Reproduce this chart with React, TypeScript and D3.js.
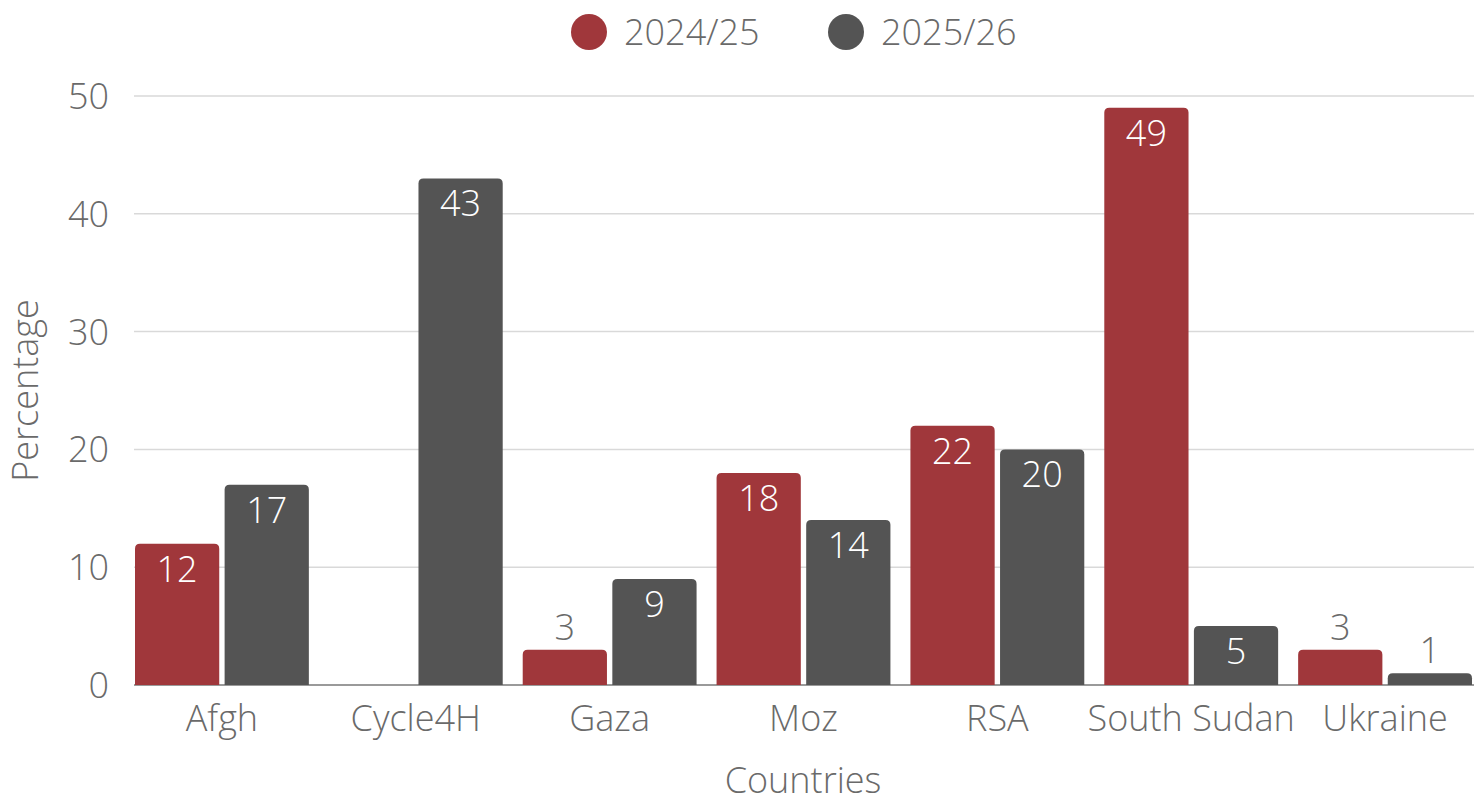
import * as d3 from "d3";

const countries = ["Afgh", "Cycle4H", "Gaza", "Moz", "RSA", "South Sudan", "Ukraine"];
const seriesNames = ["2024/25", "2025/26"];
const values2024: (number | null)[] = [12, null, 3, 18, 22, 49, 3];
const values2025: (number | null)[] = [17, 43, 9, 14, 20, 5, 1];
const yTicks = [0, 10, 20, 30, 40, 50];
const colors = ["#A0373B", "#545454"];

const W = 1480;
const H = 800;
const plot = { left: 134, right: 1474, top: 96, bottom: 685 };
const font = "'Open Sans', sans-serif";
const textColor = "#6a6a6a";
const fs = 36;

function topRounded(x: number, y: number, w: number, h: number, r: number) {
  const rr = Math.min(r, h, w / 2);
  return `M${x},${y + h}V${y + rr}Q${x},${y} ${x + rr},${y}H${x + w - rr}Q${x + w},${y} ${x + w},${y + rr}V${y + h}Z`;
}

export default function App() {
  const x0 = d3.scaleBand<string>().domain(countries).range([125, 1482]);
  const x1 = d3.scaleBand<string>().domain(seriesNames).range([10, x0.bandwidth() - 10]).paddingInner(0.06);
  const y = d3.scaleLinear().domain([0, 50]).range([plot.bottom, plot.top]);
  const series = [values2024, values2025];

  return (
    <svg width={W} height={H} style={{ display: "block", position: "absolute", left: 0, top: 0 }} fontFamily={font} fontWeight={300}>
      <rect width={W} height={H} fill="#fff" />
      {/* legend */}
      {seriesNames.map((s, i) => {
        const cx = i === 0 ? 589 : 846;
        return (
          <g key={s}>
            <circle cx={cx} cy={32} r={18} fill={colors[i]} />
            <text x={cx + 35} y={32} dy="0.36em" fontSize={fs} fill={textColor}>{s}</text>
          </g>
        );
      })}
      {/* grid */}
      {yTicks.map((t) => (
        <g key={t}>
          <line x1={plot.left} x2={plot.right} y1={y(t)} y2={y(t)} stroke={t === 0 ? "#9a9a9a" : "#d9d9d9"} strokeWidth={t === 0 ? 2 : 1.5} />
          <text x={109} y={y(t)} dy="0.36em" textAnchor="end" fontSize={fs} fill={textColor}>{t}</text>
        </g>
      ))}
      {/* bars */}
      {countries.map((c, ci) => (
        <g key={c} transform={`translate(${x0(c)},0)`}>
          {series.map((vals, si) => {
            const v = vals[ci];
            if (v == null) return null;
            const bx = x1(seriesNames[si])!;
            const bw = x1.bandwidth();
            const top = y(v);
            const h = plot.bottom - top;
            const inside = h > 40;
            return (
              <g key={si}>
                <path d={topRounded(bx, top, bw, h, 5)} fill={colors[si]} />
                <text
                  x={bx + bw / 2}
                  y={inside ? top + 25 : top - 23}
                  dy="0.36em"
                  textAnchor="middle"
                  fontSize={fs}
                  fill={inside ? "#fff" : textColor}
                >
                  {v}
                </text>
              </g>
            );
          })}
          <text x={x0.bandwidth() / 2} y={718} dy="0.36em" textAnchor="middle" fontSize={fs} fill={textColor}>{c}</text>
        </g>
      ))}
      <text x={803} y={780} dy="0.36em" textAnchor="middle" fontSize={fs} fill={textColor}>Countries</text>
      <text transform={`translate(25,${(plot.top + plot.bottom) / 2}) rotate(-90)`} dy="0.36em" textAnchor="middle" fontSize={fs} fill={textColor}>Percentage</text>
    </svg>
  );
}
